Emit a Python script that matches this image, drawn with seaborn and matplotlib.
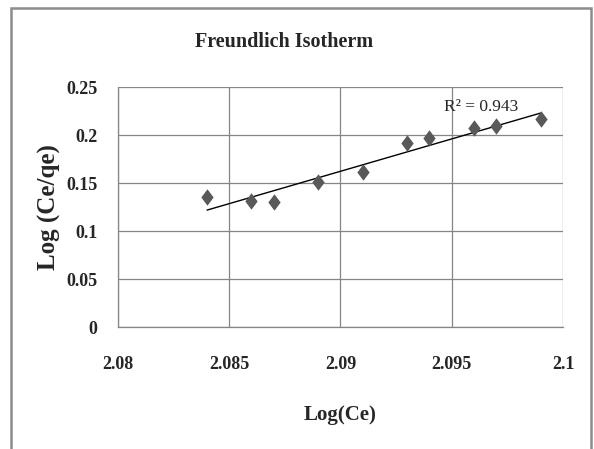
import matplotlib
matplotlib.use("Agg")
import matplotlib.pyplot as plt
import seaborn as sns
import pandas as pd
from matplotlib.patches import Rectangle

log_ce = [2.084, 2.086, 2.087, 2.089, 2.091, 2.093, 2.094, 2.096, 2.097, 2.099]
log_ce_qe = [0.135, 0.131, 0.130, 0.151, 0.161, 0.192, 0.197, 0.207, 0.209, 0.217]
x_ticks = [2.08, 2.085, 2.09, 2.095, 2.1]
x_tick_labels = ["2.08", "2.085", "2.09", "2.095", "2.1"]
y_ticks = [0, 0.05, 0.1, 0.15, 0.2, 0.25]
y_tick_labels = ["0", "0.05", "0.1", "0.15", "0.2", "0.25"]
title = "Freundlich Isotherm"
x_label = "Log(Ce)"
y_label = "Log (Ce/qe)"
r2_text = "R\u00b2 = 0.943"

df = pd.DataFrame({"x": log_ce, "y": log_ce_qe})

sns.set_style("white")
plt.rcParams["font.family"] = ["Liberation Serif", "DejaVu Serif"]

fig = plt.figure(figsize=(5.94, 4.49), dpi=100)
ax = fig.add_axes([118/594, 1-327/449, (563-118)/594, (327-87)/449])

grid_c = "#868686"
ax.set_xlim(2.08, 2.1)
ax.set_ylim(0, 0.25)
ax.set_xticks(x_ticks)
ax.set_xticklabels(x_tick_labels)
ax.set_yticks(y_ticks)
ax.set_yticklabels(y_tick_labels)
ax.grid(True, color=grid_c, linewidth=0.9)
ax.set_axisbelow(True)
for s in ["top", "right"]:
    ax.spines[s].set_visible(False)
for s in ["left", "bottom"]:
    ax.spines[s].set_color(grid_c)
    ax.spines[s].set_linewidth(0.9)
ax.tick_params(axis="both", direction="out", length=5, width=0.9, color=grid_c,
               labelsize=13)
ax.tick_params(axis="x", pad=16)
ax.tick_params(axis="y", pad=10)
for lab in ax.get_xticklabels() + ax.get_yticklabels():
    lab.set_fontweight("bold")

sns.regplot(data=df, x="x", y="y", ax=ax, scatter=False, ci=None,
            line_kws={"color": "black", "linewidth": 1.0})
diamond = [(0, 1), (0.75, 0), (0, -1), (-0.75, 0), (0, 1)]
sns.scatterplot(data=df, x="x", y="y", ax=ax, marker=diamond, s=140, color="#595959",
                edgecolor="#595959", linewidth=0, zorder=3)

ax.set_xlabel(x_label, fontsize=15, fontweight="bold")
ax.xaxis.set_label_coords(0.5, -(415-327)/240, transform=ax.transAxes)
ax.xaxis.label.set_va("center")
ax.set_ylabel(y_label, fontsize=18, fontweight="bold")
ax.yaxis.set_label_coords(-(118-49)/445, 0.5, transform=ax.transAxes)
ax.yaxis.label.set_va("center")
ax.text(2.0963, 0.229, r2_text, fontsize=12.5, ha="center", va="center")

fig.text(284/594, 1-42/449, title, fontsize=14.5, fontweight="bold",
         ha="center", va="center")

frame = Rectangle((11/594, -0.05), (591-11)/594, 1.05-8/449, transform=fig.transFigure,
                  fill=False, edgecolor="#8c8c8c", linewidth=1.8, clip_on=False)
fig.patches.append(frame)

fig.savefig("out.png", dpi=100)
